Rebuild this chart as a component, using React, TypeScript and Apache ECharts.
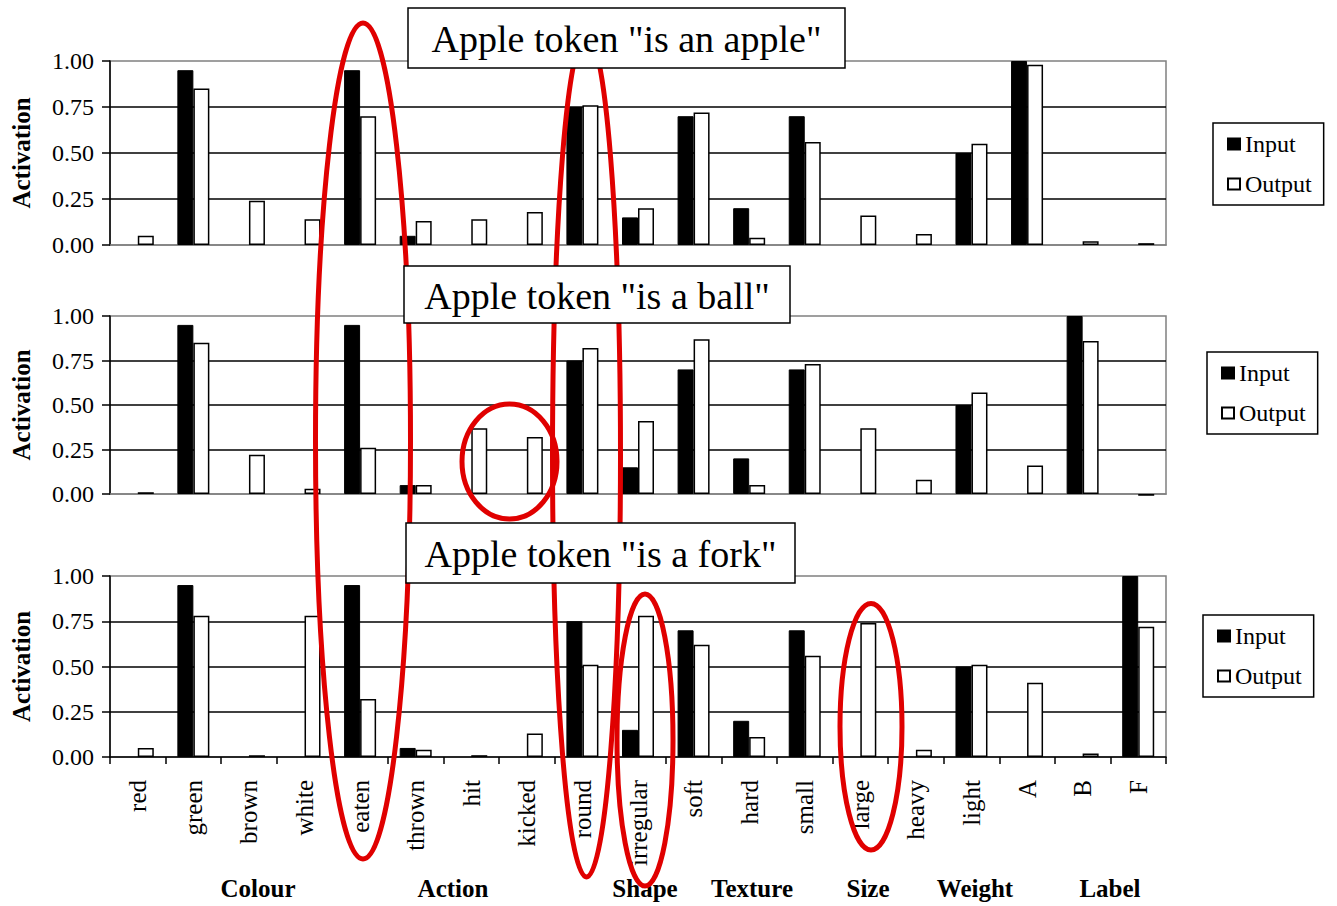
import React, { useEffect, useRef } from "react";
import * as echarts from "echarts";

// ---- data ----
const categories = [
  "red", "green", "brown", "white", "eaten", "thrown", "hit", "kicked", "round",
  "irregular", "soft", "hard", "small", "large", "heavy", "light", "A", "B", "F",
];
const groupLabels = ["Colour", "Action", "Shape", "Texture", "Size", "Weight", "Label"];
const panelTitles = ['Apple token "is an apple"', 'Apple token "is a ball"', 'Apple token "is a fork"'];
const yTicks = [0, 0.25, 0.5, 0.75, 1.0];

const appleInput = [0, 0.95, 0, 0, 0.95, 0.05, 0, 0, 0.75, 0.15, 0.7, 0.2, 0.7, 0, 0, 0.5, 1.0, 0, 0];
const appleOutput = [0.05, 0.85, 0.24, 0.14, 0.7, 0.13, 0.14, 0.18, 0.76, 0.2, 0.72, 0.04, 0.56, 0.16, 0.06, 0.55, 0.98, 0.02, 0.01];

const ballInput = [0, 0.95, 0, 0, 0.95, 0.05, 0, 0, 0.75, 0.15, 0.7, 0.2, 0.7, 0, 0, 0.5, 0, 1.0, 0];
const ballOutput = [0.01, 0.85, 0.22, 0.03, 0.26, 0.05, 0.37, 0.32, 0.82, 0.41, 0.87, 0.05, 0.73, 0.37, 0.08, 0.57, 0.16, 0.86, -0.01];

const forkInput = [0, 0.95, 0, 0, 0.95, 0.05, 0, 0, 0.75, 0.15, 0.7, 0.2, 0.7, 0, 0, 0.5, 0, 0, 1.0];
const forkOutput = [0.05, 0.78, 0.01, 0.78, 0.32, 0.04, 0.01, 0.13, 0.51, 0.78, 0.62, 0.11, 0.56, 0.74, 0.04, 0.51, 0.41, 0.02, 0.72];

const panels = [
  { input: appleInput, output: appleOutput },
  { input: ballInput, output: ballOutput },
  { input: forkInput, output: forkOutput },
];

const FONT = "Liberation Serif, Times New Roman, serif";
const RED = "#e00000";

export default function App() {
  const ref = useRef<HTMLDivElement>(null);

  useEffect(() => {
    const chart = echarts.init(ref.current!, null, { renderer: "svg" });

    const grids = [
      { left: 110, top: 61, width: 1056, height: 184 },
      { left: 110, top: 316, width: 1056, height: 178 },
      { left: 110, top: 576, width: 1056, height: 181 },
    ];
    const legendPos = [
      { left: 1213, top: 123 },
      { left: 1207, top: 352 },
      { left: 1203, top: 615 },
    ];
    const titleBoxes = [
      { x: 408, y: 8, w: 437, h: 60 },
      { x: 404, y: 266, w: 386, h: 57 },
      { x: 406, y: 523, w: 389, h: 60 },
    ];
    const groupLabelX = [258, 453, 645, 752, 868, 975, 1110];
    const ellipses = [
      { cx: 363, cy: 441, rx: 47.5, ry: 418 },
      { cx: 586.5, cy: 455, rx: 34, ry: 422 },
      { cx: 509.5, cy: 461.5, rx: 47.5, ry: 57.5 },
      { cx: 645, cy: 740, rx: 28, ry: 146 },
      { cx: 871, cy: 726.7, rx: 31, ry: 123.3 },
    ];

    const nz = (arr: number[]) => arr.map((v) => (v === 0 ? "-" : v));

    const option: any = {
      animation: false,
      backgroundColor: "#fff",
      textStyle: { fontFamily: FONT, color: "#000" },
      grid: grids.map((g) => ({
        ...g,
        show: true,
        borderColor: "#808080",
        borderWidth: 1.5,
        backgroundColor: "transparent",
      })),
      xAxis: grids.map((_, i) => {
        const last = i === grids.length - 1;
        return {
          type: "category",
          gridIndex: i,
          data: categories,
          axisLine: { show: true, lineStyle: { color: last ? "#000" : "#808080", width: 1.5 } },
          axisTick: { show: last, length: 7, interval: 0, lineStyle: { color: "#000", width: 1.5 } },
          axisLabel: {
            show: last,
            interval: 0,
            rotate: 90,
            margin: 23,
            fontSize: 25,
            fontFamily: FONT,
            color: "#000",
          },
          splitLine: { show: false },
        };
      }),
      yAxis: grids.map((_, i) => ({
        type: "value",
        gridIndex: i,
        min: yTicks[0],
        max: yTicks[yTicks.length - 1],
        interval: yTicks[1] - yTicks[0],
        name: "Activation",
        nameLocation: "middle",
        nameGap: 76,
        nameTextStyle: { fontSize: 25, fontWeight: "bold", fontFamily: FONT, color: "#000" },
        axisLine: { show: true, lineStyle: { color: "#000", width: 1.5 } },
        axisTick: { show: true, length: 8, lineStyle: { color: "#000", width: 1.5 } },
        axisLabel: {
          margin: 16,
          fontSize: 24,
          fontFamily: FONT,
          color: "#000",
          formatter: (v: number) => v.toFixed(2),
        },
        splitLine: {
          show: true,
          showMinLine: false,
          showMaxLine: false,
          lineStyle: { color: "#000", width: 1.5 },
        },
      })),
      legend: legendPos.map((p) => ({
        ...p,
        orient: "vertical",
        data: ["Input", "Output"],
        icon: "rect",
        itemWidth: 12,
        itemHeight: 11,
        itemGap: 14,
        padding: [8, 12, 8, 14],
        borderColor: "#000",
        borderWidth: 1.5,
        backgroundColor: "#fff",
        selectedMode: false,
        textStyle: { fontSize: 24, lineHeight: 26, fontFamily: FONT, color: "#000" },
      })),
      series: panels.flatMap((p, i) => [
        {
          name: "Input",
          type: "bar",
          xAxisIndex: i,
          yAxisIndex: i,
          data: nz(p.input),
          barWidth: 16,
          barGap: "0%",
          clip: false,
          silent: true,
          itemStyle: { color: "#000", borderColor: "#000", borderWidth: 1 },
        },
        {
          name: "Output",
          type: "bar",
          xAxisIndex: i,
          yAxisIndex: i,
          data: nz(p.output),
          barWidth: 16,
          barGap: "0%",
          clip: false,
          silent: true,
          itemStyle: { color: "#fff", borderColor: "#000", borderWidth: 1.5 },
        },
      ]),
      graphic: [
        ...ellipses.map((e) => ({
          type: "ellipse",
          z: 50,
          silent: true,
          shape: e,
          style: { fill: "none", stroke: RED, lineWidth: 5 },
        })),
        ...titleBoxes.map((b, i) => ({
          type: "group",
          z: 100,
          silent: true,
          children: [
            {
              type: "rect",
              z: 100,
              shape: { x: b.x, y: b.y, width: b.w, height: b.h },
              style: { fill: "#fff", stroke: "#000", lineWidth: 1.5 },
            },
            {
              type: "text",
              z: 101,
              x: b.x + b.w / 2,
              y: b.y + b.h / 2 + 1,
              style: {
                text: panelTitles[i],
                fontSize: 38,
                fontFamily: FONT,
                fill: "#000",
                align: "center",
                verticalAlign: "middle",
              },
            },
          ],
        })),
        ...groupLabels.map((t, i) => ({
          type: "text",
          silent: true,
          x: groupLabelX[i],
          y: 888,
          style: {
            text: t,
            fontSize: 25,
            fontWeight: "bold",
            fontFamily: FONT,
            fill: "#000",
            align: "center",
            verticalAlign: "middle",
          },
        })),
      ],
    };

    chart.setOption(option);
    return () => chart.dispose();
  }, []);

  return (
    <div
      ref={ref}
      style={{ position: "absolute", left: 0, top: 0, width: 1337, height: 906, background: "#fff" }}
    />
  );
}
